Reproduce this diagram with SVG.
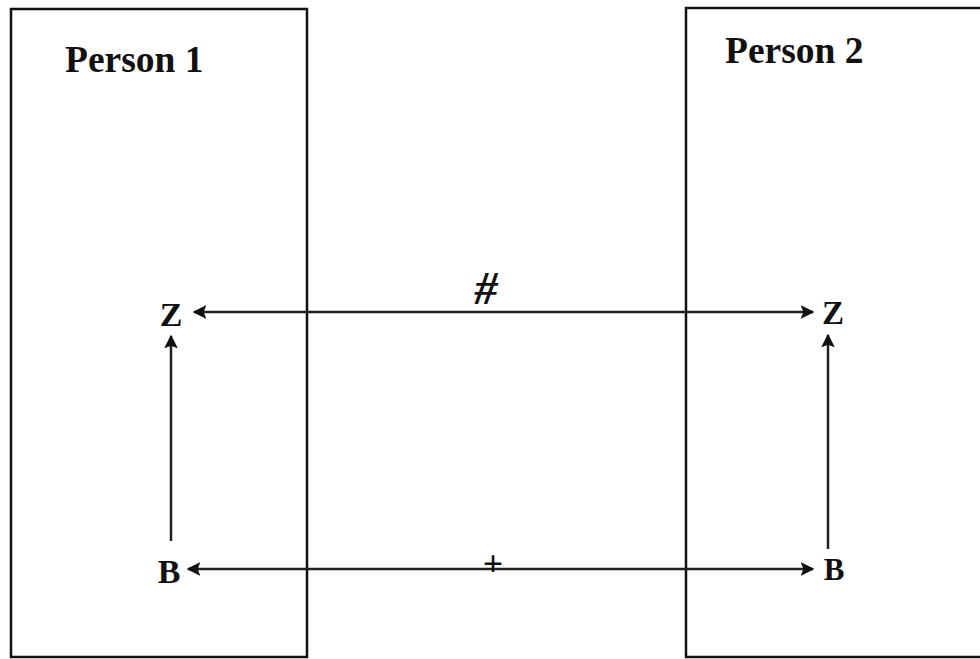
<svg xmlns="http://www.w3.org/2000/svg" width="980" height="659" viewBox="0 0 980 659">
<style>
.box{fill:none;stroke:#111;stroke-width:2.5}
.lbl{font-family:"Liberation Serif","Times New Roman",serif;font-weight:bold;fill:#111}
.conn{stroke:#222;stroke-width:2.5;fill:none}
</style>
<defs>
<marker id="ah" viewBox="0 0 10 10" refX="9" refY="5" markerWidth="5.5" markerHeight="5.5" orient="auto-start-reverse" markerUnits="strokeWidth">
<path d="M0,0 L10,5 L0,10 L2,5 Z" fill="#111"/>
</marker>
</defs>
<rect width="980" height="659" fill="#fff"/>
<g id="person1">
<rect class="box" x="11" y="9" width="296" height="648"/>
<text class="lbl" x="65" y="72" font-size="37.5">Person 1</text>
</g>
<g id="person2">
<rect class="box" x="686" y="8" width="300" height="649"/>
<text class="lbl" x="725" y="63" font-size="37.5">Person 2</text>
</g>
<g id="z1"><text class="lbl" x="171" y="326" font-size="34" text-anchor="middle">Z</text></g>
<g id="b1"><text class="lbl" x="169" y="583" font-size="34" text-anchor="middle">B</text></g>
<g id="z2"><text class="lbl" x="833" y="324" font-size="33" text-anchor="middle">Z</text></g>
<g id="b2"><text class="lbl" x="834" y="580" font-size="31" text-anchor="middle">B</text></g>
<g id="connectors">
<line class="conn" x1="194" y1="312" x2="813" y2="312" marker-start="url(#ah)" marker-end="url(#ah)"/>
<line class="conn" x1="188" y1="569" x2="813" y2="569" marker-start="url(#ah)" marker-end="url(#ah)"/>
<line class="conn" x1="171" y1="541" x2="171" y2="336" marker-end="url(#ah)"/>
<line class="conn" x1="828" y1="549" x2="828" y2="335" marker-end="url(#ah)"/>
<text class="lbl" x="486" y="304" font-size="46" font-weight="normal" text-anchor="middle" font-style="italic">#</text>
<text class="lbl" x="493" y="576" font-size="36" text-anchor="middle">+</text>
</g>
</svg>
